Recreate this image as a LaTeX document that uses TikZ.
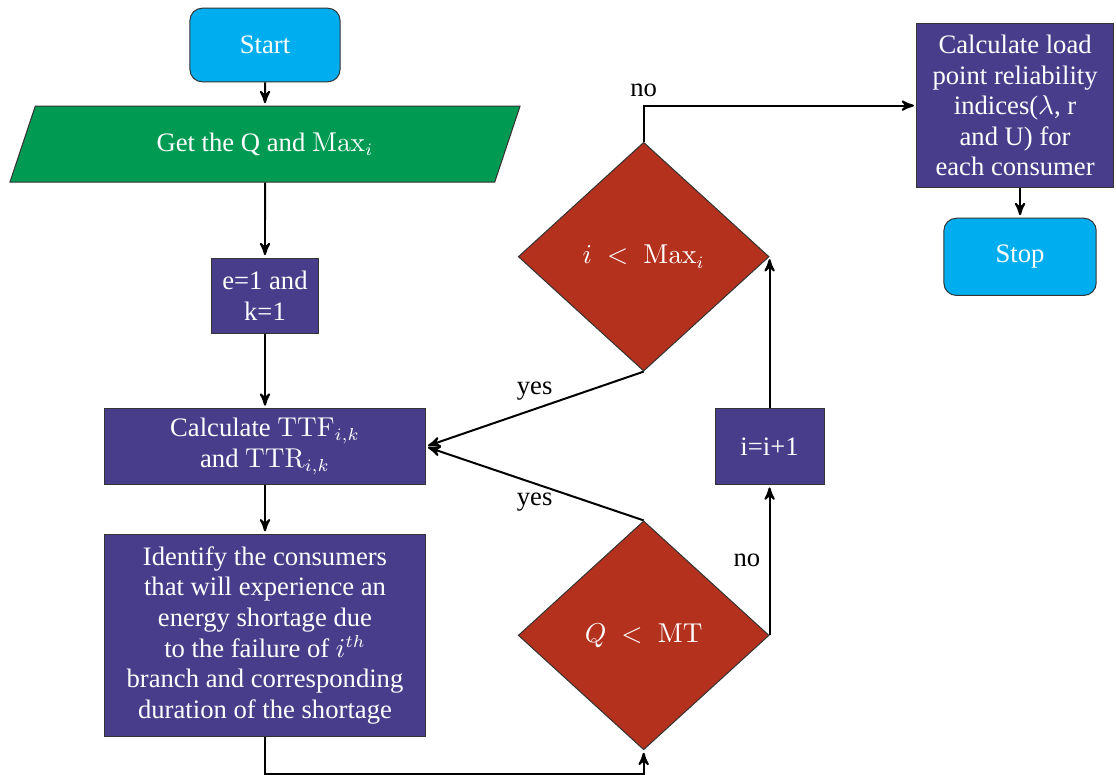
\documentclass[tikz,border=0pt]{standalone}
\usepackage[no-math]{fontspec}
\setmainfont{Liberation Serif}
\usetikzlibrary{arrows, shapes}
\usetikzlibrary{positioning, calc}
\definecolor{cielo}{RGB}{0,174,239}
\definecolor{verde}{RGB}{0,154,82}
\definecolor{morado}{RGB}{72,61,139}
\definecolor{ladrillo}{RGB}{180,49,30}

\begin{document}
\begin{tikzpicture}[->,>=stealth',shorten >=1pt,thick,font=\fontsize{10.7}{12.3}\selectfont,
    term node/.style={rectangle,rounded corners=5pt,draw=black!80,thin,fill=cielo,text=white,minimum width=2.12cm,minimum height=1.04cm},
    io node/.style={trapezium,trapezium left angle=72,trapezium right angle=108,trapezium stretches=true,draw=black!80,thin,fill=verde,text=white,minimum width=7.2cm,minimum height=1.07cm},
    proc node/.style={rectangle,draw=black!80,thin,fill=morado,text=white,align=center,inner sep=2pt},
    dec node/.style={diamond,draw=black!80,thin,fill=ladrillo,text=white,inner sep=0pt,minimum width=3.54cm,minimum height=3.23cm}]
    \useasboundingbox (-3.74,-10.30) rectangle (12.01,0.635);
    % Columna izquierda
    \node[term node] (start) {Start};
    \node[io node] (get) [below=0.33cm of start] {Get the Q and $\mathrm{Max}_i$};
    \node[proc node, minimum width=1.52cm, minimum height=1.06cm] (init) [below=1.06cm of get] {e=1 and\\k=1};
    \node[proc node, minimum width=4.52cm, minimum height=1.07cm] (ttf) [below=1.05cm of init] {Calculate $\mathrm{TTF}_{i,k}$\\and $\mathrm{TTR}_{i,k}$};
    \node[proc node, minimum width=4.52cm, minimum height=2.85cm] (ident) [below=0.69cm of ttf] {Identify the consumers\\that will experience an\\energy shortage due\\to the failure of $i^{th}$\\branch and corresponding\\duration of the shortage};
    
    % Decisiones y contador
    \node[dec node] (qmt) [right=1.3cm of ident] {$Q\;<\;\mathrm{MT}$};
    \node[dec node] (imax) [above=2.1cm of qmt] {$i\;<\;\mathrm{Max}_i$};
    \node[proc node, minimum width=1.54cm, minimum height=1.07cm] (inc) at (qmt.east |- ttf) {i=i+1};
    
    % Columna derecha
    \node[proc node, minimum width=2.77cm, minimum height=2.31cm, anchor=west] (load) at ($(imax.north)+(3.85,0.51)$) {Calculate load\\point reliability\\indices($\lambda$, r\\and U) for\\each consumer};
    \node[term node, minimum width=2.15cm, minimum height=1.09cm] (stop) [below=0.42cm of load, xshift=0.07cm] {Stop};
    
    % Conexiones rectas
    \path
    (start) edge (get)
    (get) edge (init)
    (init) edge (ttf)
    (ttf) edge (ident)
    (stop.north |- load.south) edge (stop);
    
    % Conexiones de las decisiones
    \draw (ident.south) -- ++(0,-0.53) -| (qmt.south);
    \draw (qmt.north) -- node[below] {yes} (ttf.east);
    \draw (imax.south) -- node[above] {yes} (ttf.east);
    \draw (qmt.east) -- node[left] {no} (inc.south);
    \draw (inc.north) -- (imax.east);
    \draw (imax.north) |- node[above] {no} (load.west);
\end{tikzpicture}
\end{document}
